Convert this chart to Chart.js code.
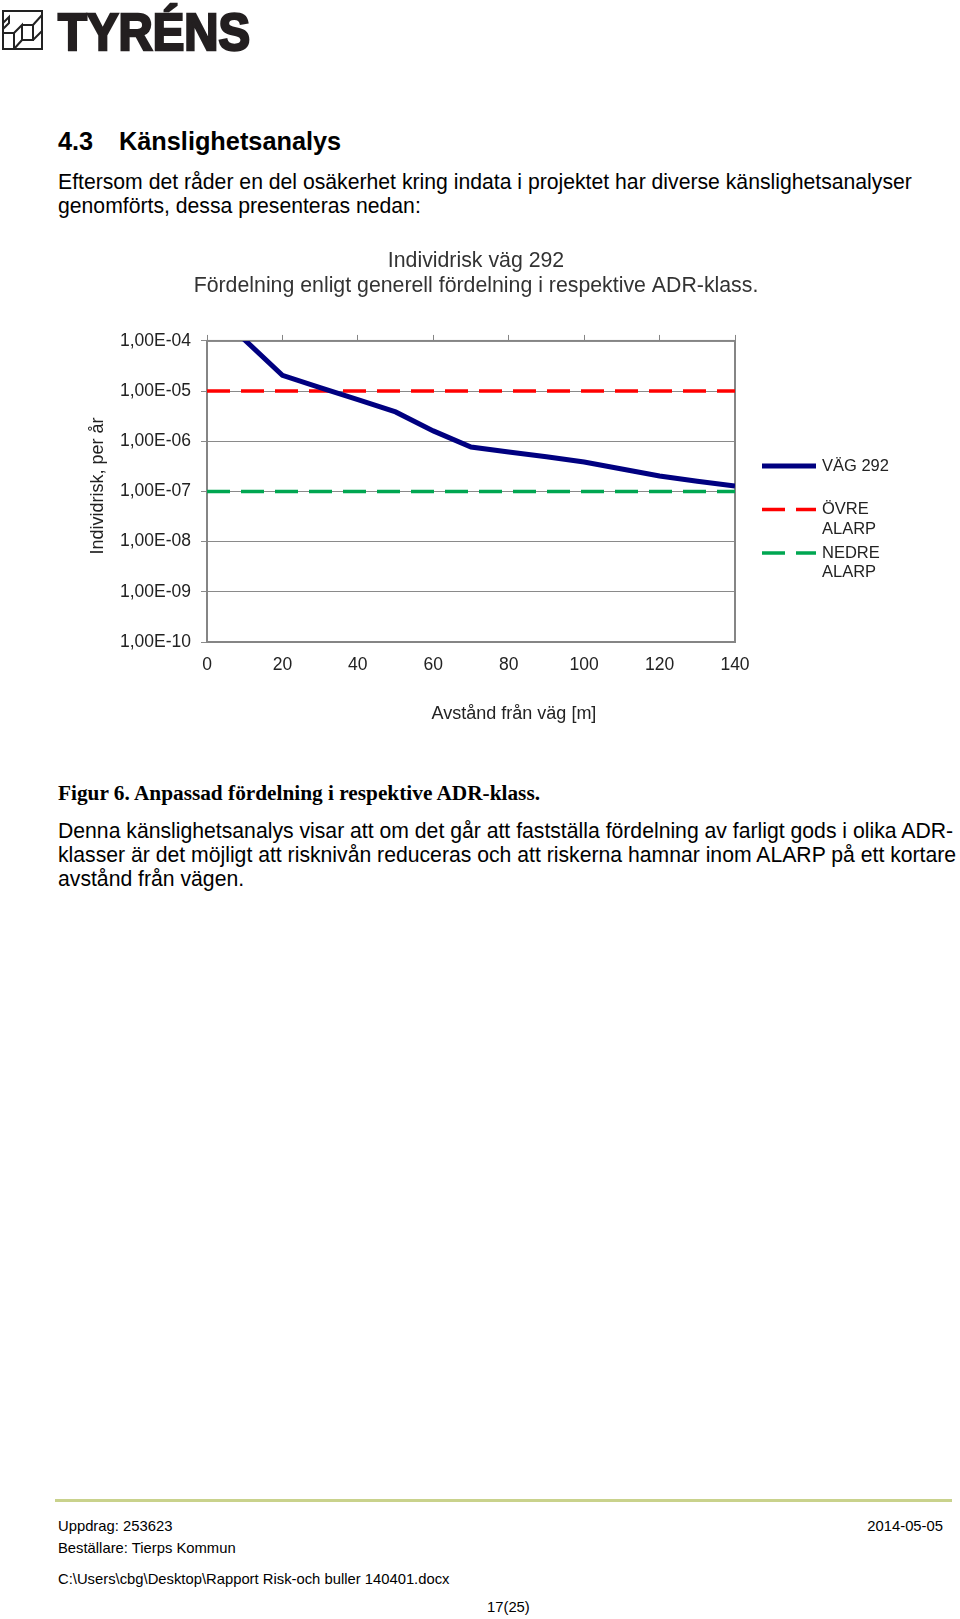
<!DOCTYPE html>
<html lang="sv">
<head>
<meta charset="utf-8">
<title>Individrisk väg 292</title>
<script src="https://cdn.jsdelivr.net/npm/chart.js@4.4.1/dist/chart.umd.min.js"></script>
<style>
    html, body { margin: 0; padding: 0; background: #fff; }
    body { width: 960px; height: 1619px; position: relative; overflow: hidden; font-family: "Liberation Sans", Arial, sans-serif; color: #000; }
    .abs { position: absolute; white-space: nowrap; }
    #logo { left: 0; top: 0; }
    h2 { margin: 0; font-size: 25.3px; font-weight: bold; left: 58px; top: 127px; }
    h2 span { display: inline-block; width: 61px; }
    .body { font-size: 21.2px; line-height: 24px; left: 58px; }
    #caption { font-family: "Liberation Serif", "Times New Roman", serif; font-weight: bold; font-size: 21.3px; left: 58px; top: 781px; }
    #chart-wrap { left: 0; top: 230px; width: 960px; height: 510px; }
    #footline { left: 55px; top: 1499px; width: 897px; height: 3px; background: #c9d28c; }
    .foot { font-size: 14.8px; }
</style>
</head>
<body>
<svg id="logo" class="abs" width="270" height="60" viewBox="0 0 270 60">
    <g fill="none" stroke="#222" stroke-width="2">
        <rect x="3" y="11" width="39" height="38"/>
        <polyline points="3,23 9,17 9,23 3,29"/>
        <polyline points="3,33 14,33 14,49"/>
        <polyline points="14,33 22,25 22,40 14,49"/>
        <polyline points="22,25 33,25 33,40 22,40"/>
        <polyline points="33,25 42,15"/>
        <polyline points="33,40 42,31"/>
    </g>
    <text x="58" y="50" font-family="Liberation Sans, Arial, sans-serif" font-weight="bold" font-size="51" fill="#231f20" stroke="#231f20" stroke-width="2.5" textLength="192" lengthAdjust="spacingAndGlyphs">TYRÉNS</text>
</svg>

<h2 class="abs"><span>4.3</span>Känslighetsanalys</h2>
<div class="abs body" style="top:170px">Eftersom det råder en del osäkerhet kring indata i projektet har diverse känslighetsanalyser<br>genomförts, dessa presenteras nedan:</div>

<div id="chart-wrap" class="abs"><canvas id="risk-chart" width="960" height="510"></canvas></div>

<div id="caption" class="abs">Figur 6. Anpassad fördelning i respektive ADR-klass.</div>
<div class="abs body" style="top:819px">Denna känslighetsanalys visar att om det går att fastställa fördelning av farligt gods i olika ADR-<br>klasser är det möjligt att risknivån reduceras och att riskerna hamnar inom ALARP på ett kortare<br>avstånd från vägen.</div>

<div id="footline" class="abs"></div>
<div class="abs foot" style="left:58px; top:1518px">Uppdrag: 253623</div>
<div class="abs foot" style="right:17px; top:1518px">2014-05-05</div>
<div class="abs foot" style="left:58px; top:1540px">Beställare: Tierps Kommun</div>
<div class="abs foot" style="left:58px; top:1571px">C:\Users\cbg\Desktop\Rapport Risk-och buller 140401.docx</div>
<div class="abs foot" style="left:487px; top:1599px">17(25)</div>

<script>
// Data (distance in m, risk per year)
const distances = [0, 10, 20, 30, 40, 50, 60, 70, 80, 90, 100, 110, 120, 130, 140];
const vag292 = [4e-4, 1.05e-4, 2.07e-5, 1.17e-5, 6.8e-6, 3.85e-6, 1.61e-6, 7.7e-7, 6.1e-7, 4.9e-7, 3.87e-7, 2.8e-7, 2.04e-7, 1.6e-7, 1.29e-7];
const ovreAlarp = [1e-5, 1e-5, 1e-5, 1e-5, 1e-5, 1e-5, 1e-5, 1e-5, 1e-5, 1e-5, 1e-5, 1e-5, 1e-5, 1e-5, 1e-5];
const nedreAlarp = [1e-7, 1e-7, 1e-7, 1e-7, 1e-7, 1e-7, 1e-7, 1e-7, 1e-7, 1e-7, 1e-7, 1e-7, 1e-7, 1e-7, 1e-7];
const seriesLabels = [['VÄG 292'], ['ÖVRE', 'ALARP'], ['NEDRE', 'ALARP']];
const yTickValues = [1e-4, 1e-5, 1e-6, 1e-7, 1e-8, 1e-9, 1e-10];
const yTickLabels = ['1,00E-04', '1,00E-05', '1,00E-06', '1,00E-07', '1,00E-08', '1,00E-09', '1,00E-10'];
const xTickValues = [0, 20, 40, 60, 80, 100, 120, 140];
const titleLines = ['Individrisk väg 292', 'Fördelning enligt generell fördelning i respektive ADR-klass.'];
const xTitle = 'Avstånd från väg [m]';
const yTitle = 'Individrisk, per år';

const toPoints = values => values.map((v, i) => ({ x: distances[i], y: v }));
const fontFamily = '"Liberation Sans", Arial, sans-serif';
const textColor = '#222';

// Plot frame, axis titles and the two-line legend on the right
const frameAndLegend = {
    id: 'frameAndLegend',
    beforeDatasetsDraw(chart) {
        const { ctx, chartArea: a } = chart;
        ctx.save();
        ctx.strokeStyle = '#858585';
        ctx.lineWidth = 2;
        ctx.strokeRect(a.left, a.top, a.right - a.left, a.bottom - a.top);
        ctx.restore();
    },
    afterDraw(chart) {
        const { ctx } = chart;
        ctx.save();
        ctx.fillStyle = textColor;
        ctx.font = '18px ' + fontFamily;
        ctx.textAlign = 'center';
        ctx.textBaseline = 'middle';
        ctx.fillText(xTitle, 514, 484);

        ctx.translate(98, 256);
        ctx.rotate(-Math.PI / 2);
        ctx.fillText(yTitle, 0, 0);
        ctx.restore();

        ctx.save();
        ctx.font = '16.5px ' + fontFamily;
        ctx.textAlign = 'left';
        ctx.textBaseline = 'middle';
        chart.data.datasets.forEach((ds, i) => {
            const y = 236 + i * 43.5;
            ctx.strokeStyle = ds.borderColor;
            ctx.lineWidth = ds.borderWidth;
            ctx.setLineDash(ds.borderDash || []);
            ctx.beginPath();
            ctx.moveTo(762, y);
            ctx.lineTo(816, y);
            ctx.stroke();
            ctx.fillStyle = textColor;
            seriesLabels[i].forEach((line, j) => ctx.fillText(line, 822, y + j * 19.5));
        });
        ctx.restore();
    }
};

new Chart(document.getElementById('risk-chart'), {
    type: 'line',
    data: {
        datasets: [
            { label: seriesLabels[0].join(' '), data: toPoints(vag292), borderColor: '#000080', borderWidth: 5, pointRadius: 0, tension: 0 },
            { label: seriesLabels[1].join(' '), data: toPoints(ovreAlarp), borderColor: '#ff0000', borderWidth: 3.5, borderDash: [23, 11], pointRadius: 0 },
            { label: seriesLabels[2].join(' '), data: toPoints(nedreAlarp), borderColor: '#00a651', borderWidth: 3.5, borderDash: [23, 11], pointRadius: 0 }
        ]
    },
    options: {
        responsive: false,
        animation: false,
        layout: { padding: { left: 0, right: 8, top: 0, bottom: 0 } },
        scales: {
            x: {
                type: 'linear', position: 'bottom', min: 0, max: 140,
                afterBuildTicks: scale => { scale.ticks = xTickValues.map(v => ({ value: v })); },
                afterFit: scale => { scale.height = 98; },
                ticks: { color: textColor, font: { family: fontFamily, size: 17.5 }, padding: 5, maxRotation: 0 },
                grid: { display: false },
                border: { display: false }
            },
            x2: {
                type: 'linear', position: 'top', min: 0, max: 140,
                afterBuildTicks: scale => { scale.ticks = xTickValues.map(v => ({ value: v })); },
                afterFit: scale => { scale.height = 42.6; },
                ticks: { display: false },
                grid: { drawOnChartArea: false, drawTicks: true, tickLength: 6, color: '#858585', lineWidth: 1 },
                border: { display: false }
            },
            y: {
                type: 'logarithmic', min: 1e-10, max: 1e-4,
                afterBuildTicks: scale => { scale.ticks = yTickValues.map(v => ({ value: v })); },
                afterFit: scale => { scale.width = 207; },
                ticks: {
                    color: textColor, font: { family: fontFamily, size: 17.5 }, padding: 10,
                    callback: value => yTickLabels[yTickValues.indexOf(value)]
                },
                grid: { color: '#8a8a8a', lineWidth: 1, tickLength: 6 },
                border: { display: false }
            },
            // empty right-hand axis that keeps room for the legend
            legendSpace: {
                type: 'linear', position: 'right', display: true,
                afterFit: scale => { scale.width = 217; },
                ticks: { display: false },
                grid: { display: false },
                border: { display: false }
            }
        },
        plugins: {
            legend: { display: false },
            tooltip: { enabled: false },
            title: {
                display: true, text: titleLines, color: '#333',
                font: { family: fontFamily, size: 21.3, weight: 'normal', lineHeight: 1.17 },
                padding: { top: 18.5, bottom: 0 }
            }
        }
    },
    plugins: [frameAndLegend]
});
</script>
</body>
</html>
